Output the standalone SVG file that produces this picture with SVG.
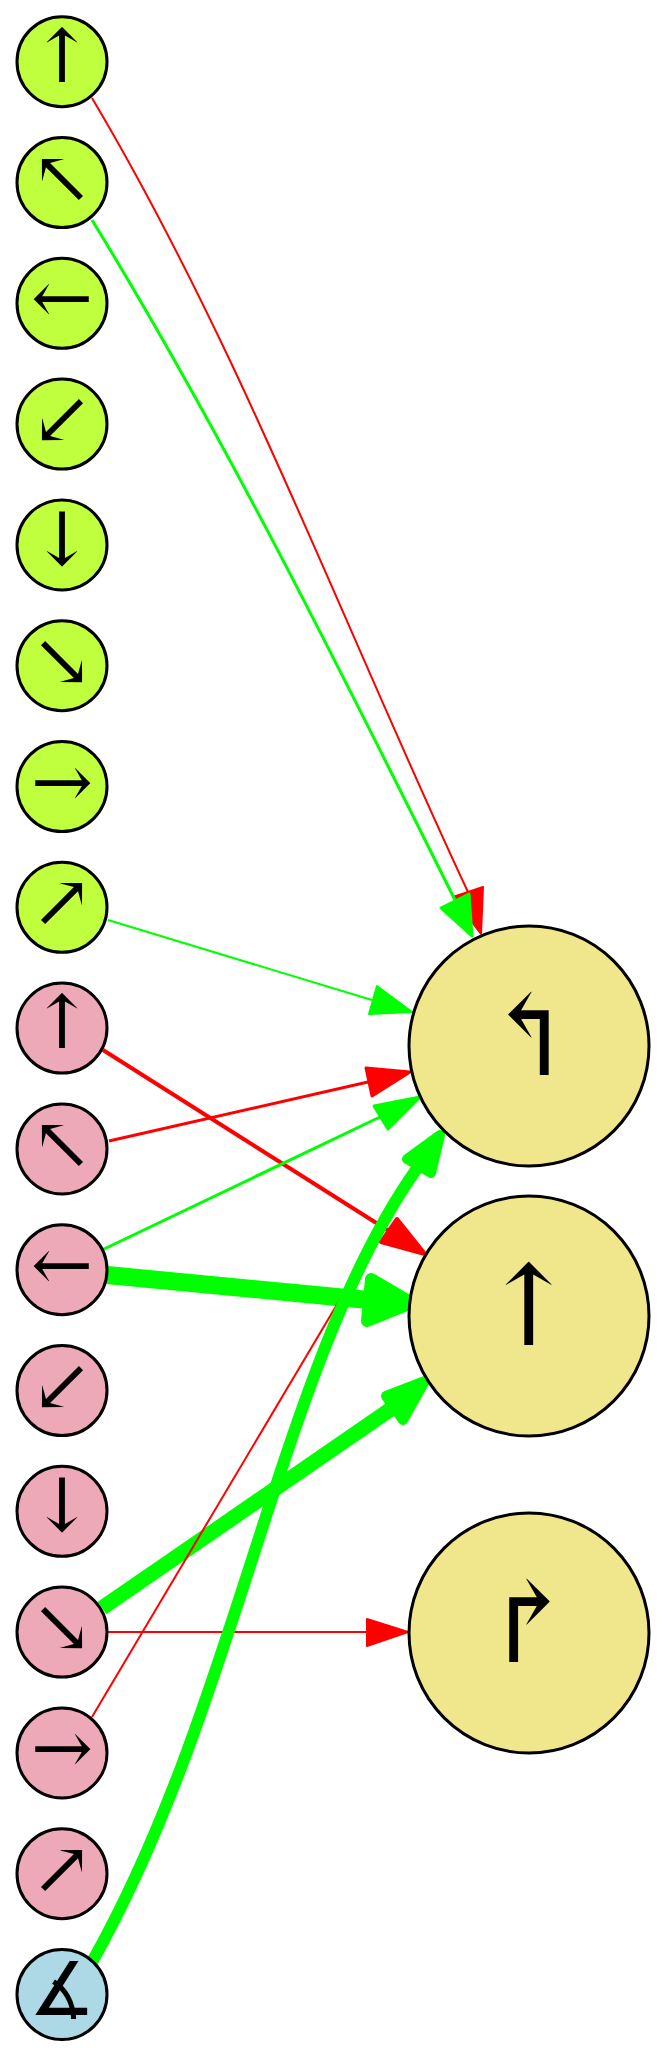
<svg xmlns="http://www.w3.org/2000/svg" width="667" height="2058" viewBox="0 0 667 2058">
<style>
.n{stroke:#000;stroke-width:3}
.g{fill:#c0ff3e}.p{fill:#eea9b8}.b{fill:#add8e6}.k{fill:#f0e68c}
.t{font-family:"DejaVu Serif",serif;font-size:74px;text-anchor:middle;fill:#000}
.T{font-family:"DejaVu Serif",serif;font-size:112px;text-anchor:middle;fill:#000}
.e{fill:none}
.r{stroke:#ff0000}.G{stroke:#00ff00}
.ah{stroke-linejoin:round}
.rf{fill:#ff0000;stroke:#ff0000}.gf{fill:#00ff00;stroke:#00ff00}
</style>
<rect width="667" height="2058" fill="#fff"/>
<g id="edges">
<path class="e r" stroke-width="2" d="M92,98 C240,347 345,630 468,892"/>
<polygon class="rf ah" stroke-width="2" points="481,934 483,887 453,897"/>
<path class="e G" stroke-width="3" d="M92,220 C230,445 355,700 455,900"/>
<polygon class="gf ah" stroke-width="3" points="472,936 469,894 441,908"/>
<path class="e G" stroke-width="2" d="M108,920 L372,1000"/>
<polygon class="gf ah" stroke-width="2" points="412,1012 377,986 369,1014"/>
<path class="e r" stroke-width="4" d="M103,1050 L389,1231"/>
<polygon class="rf ah" stroke-width="4" points="425,1254 381,1242 397,1219"/>
<path class="e r" stroke-width="3" d="M109,1141 L368,1082"/>
<polygon class="rf ah" stroke-width="3" points="410,1072 366,1068 372,1096"/>
<path class="e G" stroke-width="3" d="M102,1250 L380,1117"/>
<polygon class="gf ah" stroke-width="3" points="420,1097 374,1106 388,1129"/>
<path class="e G" stroke-width="18" d="M107,1275 L368,1300"/>
<polygon class="gf ah" stroke-width="12" points="412,1303 371,1279 367,1321"/>
<path class="e r" stroke-width="2" d="M108,1632 L367,1632"/>
<polygon class="rf ah" stroke-width="2" points="408,1632 367,1619 367,1646"/>
<path class="e G" stroke-width="15" d="M102,1608 L391,1409"/>
<polygon class="gf ah" stroke-width="10" points="425,1381 386,1396 403,1420"/>
<path class="e r" stroke-width="2" d="M92,1717 L424,1158"/>
<polygon class="rf ah" stroke-width="2" points="438,1135 429,1161 419,1155"/>
<path class="e G" stroke-width="12" d="M92,1962 C240,1700 280,1360 418,1167"/>
<polygon class="gf ah" stroke-width="10" points="440,1135 407,1159 431,1173"/>
</g>
<g id="n0"><circle class="n g" cx="62" cy="61.7" r="45"/><text class="t" x="62" y="81.7">↑</text></g>
<g id="n1"><circle class="n g" cx="62" cy="182.5" r="45"/><text class="t" x="62" y="202.5">↖</text></g>
<g id="n2"><circle class="n g" cx="62" cy="303.3" r="45"/><text class="t" x="62" y="323.3">←</text></g>
<g id="n3"><circle class="n g" cx="62" cy="424.1" r="45"/><text class="t" x="62" y="444.1">↙</text></g>
<g id="n4"><circle class="n g" cx="62" cy="544.9" r="45"/><text class="t" x="62" y="564.9">↓</text></g>
<g id="n5"><circle class="n g" cx="62" cy="665.7" r="45"/><text class="t" x="62" y="685.7">↘</text></g>
<g id="n6"><circle class="n g" cx="62" cy="786.5" r="45"/><text class="t" x="62" y="806.5">→</text></g>
<g id="n7"><circle class="n g" cx="62" cy="907.3" r="45"/><text class="t" x="62" y="927.3">↗</text></g>
<g id="n8"><circle class="n p" cx="62" cy="1028.1" r="45"/><text class="t" x="62" y="1048.1">↑</text></g>
<g id="n9"><circle class="n p" cx="62" cy="1148.9" r="45"/><text class="t" x="62" y="1168.9">↖</text></g>
<g id="n10"><circle class="n p" cx="62" cy="1269.7" r="45"/><text class="t" x="62" y="1289.7">←</text></g>
<g id="n11"><circle class="n p" cx="62" cy="1390.5" r="45"/><text class="t" x="62" y="1410.5">↙</text></g>
<g id="n12"><circle class="n p" cx="62" cy="1511.3" r="45"/><text class="t" x="62" y="1531.3">↓</text></g>
<g id="n13"><circle class="n p" cx="62" cy="1632.1" r="45"/><text class="t" x="62" y="1652.1">↘</text></g>
<g id="n14"><circle class="n p" cx="62" cy="1752.9" r="45"/><text class="t" x="62" y="1772.9">→</text></g>
<g id="n15"><circle class="n p" cx="62" cy="1873.7" r="45"/><text class="t" x="62" y="1893.7">↗</text></g>
<g id="n16"><circle class="n b" cx="62" cy="1994.5" r="45"/><text class="t" x="62" y="2014.5">∡</text></g>
<g id="b0"><circle class="n k" cx="529" cy="1046" r="120"/><text class="T" x="529" y="1075">↰</text></g>
<g id="b1"><circle class="n k" cx="529" cy="1316" r="120"/><text class="T" x="529" y="1345">↑</text></g>
<g id="b2"><circle class="n k" cx="529" cy="1633" r="120"/><text class="T" x="529" y="1662">↱</text></g>
</svg>
